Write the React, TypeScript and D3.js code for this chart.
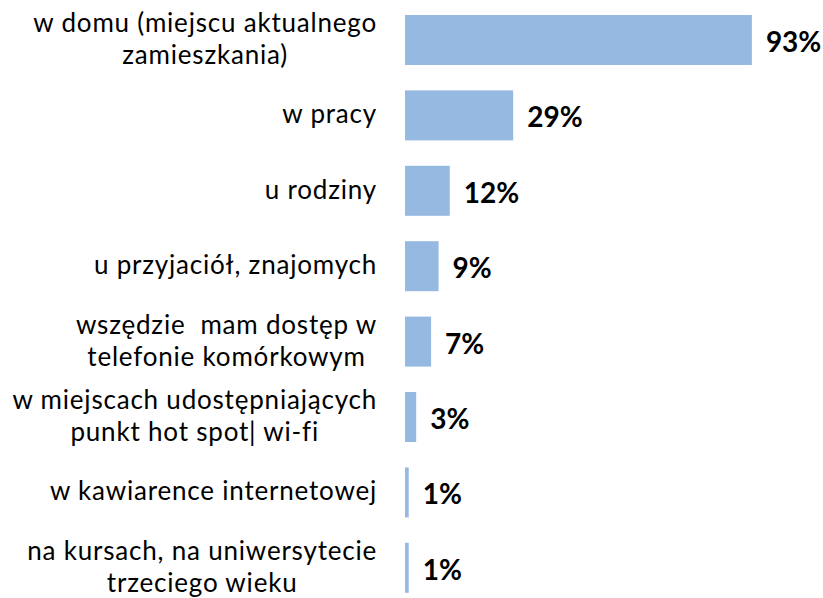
import React, { useEffect, useRef } from "react";
import * as d3 from "d3";

// category labels (split into lines as in the original)
const categories: string[][] = [
  ["w domu (miejscu aktualnego", "zamieszkania)"],
  ["w pracy"],
  ["u rodziny"],
  ["u przyjaciół, znajomych"],
  ["wszędzie  mam dostęp w", "telefonie komórkowym"],
  ["w miejscach udostępniających", "punkt hot spot| wi-fi"],
  ["w kawiarence internetowej"],
  ["na kursach, na uniwersytecie", "trzeciego wieku"],
];
const values: number[] = [93, 29, 12, 9, 7, 3, 1, 1];

const width = 823;
const height = 598;

export default function App() {
  const ref = useRef<SVGSVGElement>(null);

  useEffect(() => {
    const svg = d3.select(ref.current);
    svg.selectAll("*").remove();

    const keys = categories.map((c, i) => String(i));
    const y = d3.scaleBand().domain(keys).range([2.3, 605.5]).paddingInner(0.337).paddingOuter(0.1685);
    const x = d3.scaleLinear().domain([0, 100]).range([405, 778]);
    const labelRight = 377;

    const row = svg
      .selectAll("g.row")
      .data(values)
      .enter()
      .append("g")
      .attr("class", "row");

    row
      .append("rect")
      .attr("x", x(0))
      .attr("y", (d, i) => y(keys[i])!)
      .attr("width", (d) => x(d) - x(0))
      .attr("height", y.bandwidth())
      .attr("fill", "#95b9e1");

    // value labels
    row
      .append("text")
      .attr("x", (d) => x(d) + 14)
      .attr("y", (d, i) => y(keys[i])! + y.bandwidth() / 2 + 12)
      .attr("font-family", "Lato, 'Open Sans', sans-serif")
      .attr("font-weight", "bold")
      .attr("font-size", 28)
      .attr("fill", "#000")
      .text((d) => d + "%");

    // category labels: block right aligned, lines centred inside the block
    row.each(function (d, i) {
      const lines = categories[i];
      const cy = y(keys[i])! + y.bandwidth() / 2 + 8;
      const t = d3
        .select(this)
        .append("text")
        .attr("text-anchor", "middle")
        .attr("font-family", "Lato, 'Open Sans', sans-serif")
        .attr("font-size", 26)
        .attr("letter-spacing", 0.8)
        .attr("fill", "#000")
        .style("white-space", "pre")
        .style("font-variant-ligatures", "none");
      const spans = lines.map((line, j) =>
        t.append("tspan")
          .attr("y", cy + (j - (lines.length - 1) / 2) * 32)
          .text(line)
      );
      const widest = d3.max(spans, (s) => (s.node() as SVGTSpanElement).getComputedTextLength()) || 0;
      spans.forEach((s) => s.attr("x", labelRight - widest / 2));
    });
  }, []);

  return (
    <svg
      ref={ref}
      width={width}
      height={height}
      style={{ position: "absolute", left: 0, top: 0, background: "#fff" }}
    />
  );
}
